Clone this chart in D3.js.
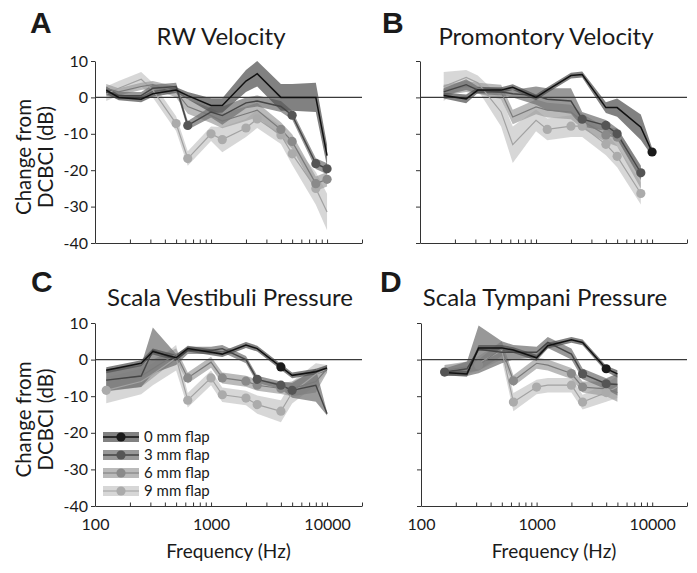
<!DOCTYPE html>
<html><head><meta charset="utf-8">
<script src="https://cdn.jsdelivr.net/npm/d3@7"></script>
<style>
body{margin:0;background:#fff;}
svg{display:block;}
text{font-family:Lato,"Open Sans",sans-serif;fill:#1a1a1a;}
</style>
</head><body>
<svg id="chart" width="697" height="573"></svg>
<script>
// ---------- DATA ----------
const freqs = [125,160,250,315,500,630,1000,1250,2000,2500,4000,5000,8000,10000];
const seriesNames = ["0 mm flap","3 mm flap","6 mm flap","9 mm flap"];
const yTicks = [10,0,-10,-20,-30,-40];
const xTickLabels = [100,1000,10000];
const xMinorTicks = [100,200,300,400,500,600,700,800,900,1000,2000,3000,4000,5000,6000,7000,8000,9000,10000,20000];

// Panel A: RW Velocity (mean, error, marker indices)
const A0  = [2, 0, -0.5, 1, 2, 0.5, -2.2, -2.2, 4.5, 6.5, 0, 0, 0, -16];
const A0e = [1, 0.8, 0.8, 0.8, 0.8, 1, 2, 2, 3, 3.5, 3.7, 3.7, 4, 3];
const A0m = [];
const A3  = [1.5, 0.5, 0.5, 2.5, 3, -7.7, -4, -5, -1.5, -1, -2.5, -4.9, -18.2, -19.6];
const A3e = [1, 1, 1, 1, 1, 1.2, 1.5, 2.5, 1.5, 1.5, 1.5, 1.2, 1.5, 1.5];
const A3m = [5, 11, 12, 13];
const A6  = [2.5, 1.5, 3, 3.5, 1.5, -2.5, -5, -6.5, -4.5, -3.5, -8.8, -12.1, -23.7, -22.5];
const A6e = [1.2, 1, 1, 1, 1.5, 2, 2, 2, 2, 2, 2, 2, 2, 2];
const A6m = [10, 11, 12, 13];
const A9  = [1, 2.5, 5, 2, -7.2, -16.8, -10, -11.6, -8.4, -5.9, -10.3, -15.5, -25, -31.5];
const A9e = [2, 2, 2, 2, 2, 2, 2, 3.5, 2.5, 2.5, 2.5, 3, 4.5, 5];
const A9m = [4, 5, 6, 7, 8, 9, 10, 11, 12];

// Panel B: Promontory Velocity
const B0  = [null, 0.5, -0.4, 2, 2, 2.8, 0, 2, 6, 6.3, -2.8, -2.8, -8.2, -15];
const B0e = [null, 0.8, 1.2, 0.8, 0.8, 0.8, 0.8, 0.8, 0.8, 0.8, 1.5, 2.5, 3.5, 1.2];
const B0m = [13];
const B3  = [null, 1.5, 3.5, 2, 1.5, 1, 0.5, -0.5, -1, -6, -7.7, -10, -20.7, null];
const B3e = [null, 1, 1.5, 1, 1, 1, 2.5, 3, 3.5, 2, 1.5, 1.5, 2, null];
const B3m = [9, 10, 11, 12];
const B6  = [null, 2, 3, 2.5, 1.5, -5.4, -2.6, -3.5, -4, -6.5, -10.3, -10.9, -22, null];
const B6e = [null, 1.5, 1.5, 1.5, 2, 2, 2, 2, 2, 2, 2, 2.5, 3, null];
const B6m = [10, 11];
const B9  = [null, 3, 5.5, 4, -4, -13, -6.3, -8.8, -7.9, -7.9, -12.9, -16.2, -26.4, null];
const B9e = [null, 4, 2, 2, 4, 5, 3, 3, 3, 3, 3, 3, 3, null];
const B9m = [7, 8, 9, 10, 11, 12];

// Panel C: Scala Vestibuli Pressure
const C0  = [-2.9, null, -1, 2.2, 0.5, 3, 2, 1.5, 4, 3, -2, -4.3, -3.3, -2.3];
const C0e = [0.8, null, 0.8, 0.8, 0.8, 0.8, 0.8, 0.8, 0.8, 0.8, 0.8, 0.8, 0.8, 0.8];
const C0m = [10];
const C3  = [-5.6, null, -4.5, 2.5, 0, 2.5, 2.5, 3, 0, -5.4, -7, -8.4, -7, -14.8];
const C3e = [3, null, 3, 6.3, 1.5, 1, 1, 1, 1, 1, 1, 2, 4.5, 0.5];
const C3m = [9, 10, 11];
const C6  = [-5.7, null, -4.5, -2.5, 1.5, -5, -0.7, -5, -5.9, -7, -7.9, -8, -6, -2.5];
const C6e = [3, null, 3, 2.5, 1.5, 1.5, 1.5, 1.5, 1.5, 1.5, 1.5, 2, 3, 1];
const C6m = [5, 7, 8, 9, 10];
const C9  = [-8.4, null, -6, -4, 0.5, -11.1, -5, -9.6, -10.5, -12.3, -14.1, -9, -4, -2.5];
const C9e = [3.5, null, 3.5, 3, 3.5, 2, 2, 2, 2, 2.5, 3, 3, 3, 1];
const C9m = [0, 5, 6, 7, 8, 9, 10];

// Panel D: Scala Tympani Pressure
const D0  = [null, -3.5, -3.9, 3.2, 3.2, 2.6, 0.5, 3.8, 5.4, 4.7, -2.5, -3.9, null, null];
const D0e = [null, 0.8, 0.8, 0.8, 0.8, 0.8, 0.8, 0.8, 0.8, 0.8, 0.8, 1, null, null];
const D0m = [10];
const D3  = [null, -3.4, -2.5, 2.8, 2, 2, 2, 4.7, 1.5, -3.9, -6.6, -6.8, null, null];
const D3e = [null, 1, 2, 6.5, 3, 2, 1.5, 1.5, 1.5, 1.5, 1.5, 3, null, null];
const D3m = [1, 9, 10];
const D6  = [null, -3, -2, -1.5, 3, -5.8, -1, -1.5, -3.8, -7.5, -8, -9, null, null];
const D6e = [null, 1.5, 1.5, 1.5, 2, 1.5, 1.5, 1.5, 1.5, 1.5, 2, 2.5, null, null];
const D6m = [3, 5, 8, 9];
const D9  = [null, -3, -2.5, -1, 2.5, -11.6, -7.5, -7, -7, -11.6, -9, -7.5, null, null];
const D9e = [null, 1.5, 1.5, 2, 2.5, 2.5, 2, 2, 2, 2, 2.5, 3, null, null];
const D9m = [5, 6, 8, 9, 10];

// ---------- STYLE / LAYOUT ----------
const bandFill   = ["#505050", "#707070", "#a0a0a0", "#c8c8c8"];
const bandOpac   = 0.72;
const lineColor  = ["#111111", "#454545", "#7a7a7a", "#a2a2a2"];
const lineWidth  = [1.5, 1.4, 1.2, 1.2];
const markColor  = ["#1a1a1a", "#555555", "#8a8a8a", "#ababab"];
const markR = 4.6;

const panels = [
  {letter:"A", title:"RW Velocity", x0:95, x1:362, yTop:61, yBot:243, titleX:221, titleY:45, letterX:30, letterY:33, yLabels:true, xLabels:false,
   series:[[A0,A0e,A0m],[A3,A3e,A3m],[A6,A6e,A6m],[A9,A9e,A9m]]},
  {letter:"B", title:"Promontory Velocity", x0:420, x1:687, yTop:61, yBot:243, titleX:546, titleY:45, letterX:382, letterY:33, yLabels:false, xLabels:false,
   series:[[B0,B0e,B0m],[B3,B3e,B3m],[B6,B6e,B6m],[B9,B9e,B9m]]},
  {letter:"C", title:"Scala Vestibuli Pressure", x0:95, x1:362, yTop:323, yBot:506, titleX:230, titleY:306, letterX:31, letterY:292, yLabels:true, xLabels:true, legend:true,
   series:[[C0,C0e,C0m],[C3,C3e,C3m],[C6,C6e,C6m],[C9,C9e,C9m]]},
  {letter:"D", title:"Scala Tympani Pressure", x0:421, x1:687, yTop:323, yBot:506, titleX:545, titleY:306, letterX:380, letterY:292, yLabels:false, xLabels:true,
   series:[[D0,D0e,D0m],[D3,D3e,D3m],[D6,D6e,D6m],[D9,D9e,D9m]]}
];

const svg = d3.select("#chart");

panels.forEach(p => {
  const x = d3.scaleLog().domain([100, 20000]).range([p.x0, p.x1]);
  const y = d3.scaleLinear().domain([-40, 10]).range([p.yBot, p.yTop]);
  const g = svg.append("g");

  // letter & title
  g.append("text").attr("x", p.letterX).attr("y", p.letterY)
    .style("font-family", "'Liberation Sans', Arial, sans-serif")
    .style("font-weight", "bold").style("font-size", "30px").text(p.letter);
  g.append("text").attr("x", p.titleX).attr("y", p.titleY).attr("text-anchor", "middle")
    .style("font-size", "24px").text(p.title);

  const pts = s => freqs.map((f, i) => ({f, v: s[0][i], e: s[1][i], i}))
                        .filter(d => d.v !== null && d.v !== undefined);

  // bands
  const area = d3.area().x(d => x(d.f)).y0(d => y(d.v - d.e)).y1(d => y(d.v + d.e));
  [3,2,1,0].forEach(k => {
    g.append("path").datum(pts(p.series[k])).attr("d", area)
      .attr("fill", bandFill[k]).attr("fill-opacity", bandOpac).attr("stroke", "none");
  });

  // zero line
  g.append("line").attr("x1", p.x0).attr("x2", p.x1).attr("y1", y(0)).attr("y2", y(0))
    .attr("stroke", "#3a3a3a").attr("stroke-width", 1.2);

  // mean lines
  const line = d3.line().x(d => x(d.f)).y(d => y(d.v));
  [3,2,1,0].forEach(k => {
    g.append("path").datum(pts(p.series[k])).attr("d", line)
      .attr("fill", "none").attr("stroke", lineColor[k]).attr("stroke-width", lineWidth[k]);
  });

  // markers
  [3,2,1,0].forEach(k => {
    const s = p.series[k];
    const mk = pts(s).filter(d => s[2].includes(d.i));
    g.selectAll(null).data(mk).enter().append("circle")
      .attr("cx", d => x(d.f)).attr("cy", d => y(d.v)).attr("r", markR)
      .attr("fill", markColor[k]);
  });

  // y axis
  const ya = g.append("g").attr("transform", `translate(${p.x0},0)`)
    .call(d3.axisLeft(y).tickValues(yTicks).tickSizeInner(4).tickSizeOuter(0).tickPadding(3)
      .tickFormat(d => p.yLabels ? String(d) : ""));
  ya.selectAll("path,line").attr("stroke", "#333");
  ya.selectAll("text").style("font-size", "16px").style("font-family", "Lato,sans-serif").attr("fill", "#1a1a1a");

  // x axis
  const xa = g.append("g").attr("transform", `translate(0,${p.yBot})`)
    .call(d3.axisBottom(x).tickValues(xMinorTicks).tickSizeInner(-3.5).tickSizeOuter(0).tickPadding(13)
      .tickFormat(d => (p.xLabels && xTickLabels.includes(d)) ? String(d) : ""));
  xa.selectAll("path,line").attr("stroke", "#333");
  xa.selectAll("text").style("font-size", "16px").style("font-family", "Lato,sans-serif").attr("fill", "#1a1a1a");

  // y axis title (left panels)
  if (p.yLabels) {
    const cy = (p.yTop + p.yBot) / 2 + 5;
    [["Change from", 31], ["DCBCI (dB)", 53]].forEach(([t, bx]) => {
      g.append("text").attr("transform", `translate(${bx},${cy}) rotate(-90)`)
        .attr("text-anchor", "middle").style("font-size", "20.5px").text(t);
    });
  }
  if (p.xLabels) {
    g.append("text").attr("x", (p.x0 + p.x1) / 2).attr("y", 558).attr("text-anchor", "middle")
      .style("font-size", "19px").text("Frequency (Hz)");
  }

  // legend
  if (p.legend) {
    const lg = g.append("g");
    seriesNames.forEach((name, k) => {
      const cy = 437 + k * 18;
      lg.append("rect").attr("x", 103).attr("y", cy - 5).attr("width", 36).attr("height", 10)
        .attr("fill", bandFill[k]).attr("fill-opacity", bandOpac);
      lg.append("line").attr("x1", 103).attr("x2", 139).attr("y1", cy).attr("y2", cy)
        .attr("stroke", lineColor[k]).attr("stroke-width", lineWidth[k]);
      lg.append("circle").attr("cx", 121).attr("cy", cy).attr("r", markR).attr("fill", markColor[k]);
      lg.append("text").attr("x", 144).attr("y", cy).attr("dy", "0.36em")
        .style("font-size", "15px").text(name);
    });
  }
});
</script>
</body></html>
